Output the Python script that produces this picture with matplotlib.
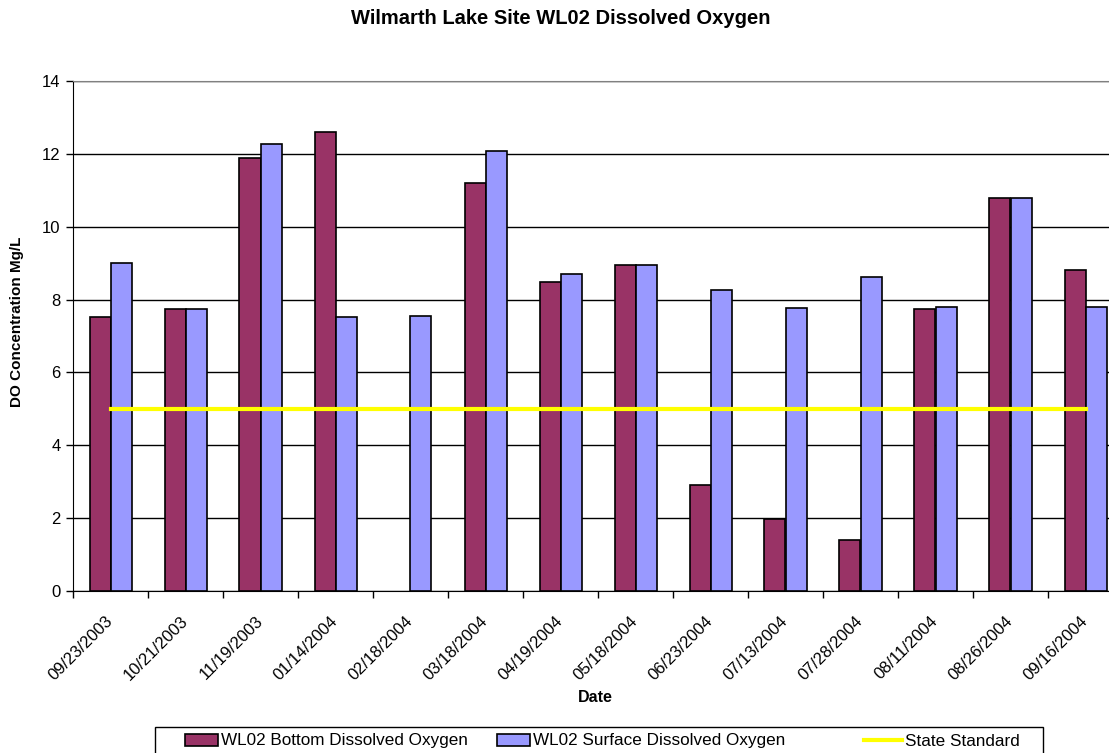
"""Bar chart of bottom and surface dissolved oxygen at Wilmarth Lake site WL02."""

import matplotlib

matplotlib.use("Agg")

import matplotlib.pyplot as plt
import numpy as np
from matplotlib.patches import Rectangle

DATES = [
    "09/23/2003", "10/21/2003", "11/19/2003", "01/14/2004", "02/18/2004",
    "03/18/2004", "04/19/2004", "05/18/2004", "06/23/2004", "07/13/2004",
    "07/28/2004", "08/11/2004", "08/26/2004", "09/16/2004",
]
BOTTOM_DO = [7.51, 7.73, 11.89, 12.6, np.nan, 11.19, 8.48, 8.96, 2.90, 1.98,
             1.39, 7.75, 10.79, 8.81]
SURFACE_DO = [9.0, 7.73, 12.27, 7.51, 7.56, 12.09, 8.70, 8.96, 8.27, 7.77,
              8.63, 7.80, 10.79, 7.79]
STATE_STANDARD = [5, 5, 5, 5, 5, 5, 5, 5, 5, 5, 5, 5, 5, 5]
Y_TICKS = [0, 2, 4, 6, 8, 10, 12, 14]

BOTTOM_COLOR = "#993366"
SURFACE_COLOR = "#9999FF"
STANDARD_COLOR = "#FFFF00"

W, H = 1109, 753


def main() -> None:
    plt.rcParams["font.family"] = ["Liberation Sans", "DejaVu Sans"]

    fig = plt.figure(figsize=(W / 100, H / 100), dpi=100)
    ax = fig.add_axes([73 / W, (H - 591) / H, 1050 / W, 510 / H])

    x = np.arange(len(DATES))
    bar_w = 0.28
    bottom = ax.bar(x - bar_w / 2, BOTTOM_DO, width=bar_w, color=BOTTOM_COLOR,
                    edgecolor="black", linewidth=1.2, zorder=3)
    surface = ax.bar(x + bar_w / 2, SURFACE_DO, width=bar_w,
                     color=SURFACE_COLOR, edgecolor="black", linewidth=1.2,
                     zorder=3)
    (standard,) = ax.plot(x, STATE_STANDARD, color=STANDARD_COLOR,
                          linewidth=3, zorder=4)

    ax.set_xlim(-0.5, len(DATES) - 0.5)
    ax.set_ylim(0, 14)
    ax.set_yticks(Y_TICKS)
    ax.tick_params(axis="y", labelsize=12, length=5, width=1, pad=4)
    ax.yaxis.grid(True, color="black", linewidth=1, zorder=1)
    ax.set_axisbelow(True)

    # category boundaries get the tick marks, labels sit at the centers
    ax.set_xticks(np.arange(len(DATES) + 1) - 0.5)
    ax.set_xticklabels([])
    ax.tick_params(axis="x", which="major", length=5, width=1)
    ax.set_xticks(x, minor=True)
    ax.set_xticklabels(DATES, minor=True, rotation=45, ha="right",
                       va="center", rotation_mode="anchor", fontsize=12)
    ax.tick_params(axis="x", which="minor", length=0, pad=20)

    ax.spines["left"].set_color("black")
    ax.spines["bottom"].set_color("black")
    ax.spines["top"].set_color("#808080")
    ax.spines["right"].set_visible(False)

    fig.text(561 / W, 1 - 19 / H, "Wilmarth Lake Site WL02 Dissolved Oxygen",
             ha="center", va="center", fontsize=14.5, fontweight="bold")
    fig.text(595 / W, 1 - 697 / H, "Date", ha="center", va="center",
             fontsize=11.5, fontweight="bold")
    fig.text(17 / W, 1 - 322 / H, "DO Concentration Mg/L", ha="center",
             va="center", rotation=90, fontsize=11, fontweight="bold")

    # Excel-style legend: three entries at their own spots inside one box
    fig.add_artist(Rectangle((155 / W, -0.02), (1043 - 155) / W,
                             0.02 + (H - 727) / H, transform=fig.transFigure,
                             facecolor="white", edgecolor="black",
                             linewidth=1))
    entries = [
        (bottom, "WL02 Bottom Dissolved Oxygen", 185, 1.93),
        (surface, "WL02 Surface Dissolved Oxygen", 497, 1.93),
        (standard, "State Standard", 864, 2.2),
    ]
    for handle, label, left, hlen in entries:
        fig.legend([handle], [label], loc="center left",
                   bbox_to_anchor=(left / W, 1 - 741 / H), fontsize=12.3,
                   frameon=False, borderpad=0, borderaxespad=0,
                   handlelength=hlen, handleheight=0.7, handletextpad=0.2)

    fig.savefig("out.png", dpi=100)
    plt.close(fig)


if __name__ == "__main__":
    main()
